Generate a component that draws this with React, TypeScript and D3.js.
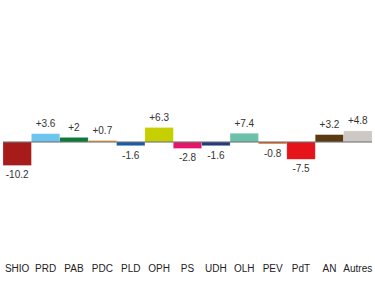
import React from "react";
import * as d3 from "d3";

const categories = ["SHIO", "PRD", "PAB", "PDC", "PLD", "OPH", "PS", "UDH", "OLH", "PEV", "PdT", "AN", "Autres"];
const values = [-10.2, 3.6, 2, 0.7, -1.6, 6.3, -2.8, -1.6, 3.8, -0.8, -7.5, 3.2, 4.8];
const valueLabels = ["-10.2", "+3.6", "+2", "+0.7", "-1.6", "+6.3", "-2.8", "-1.6", "+7.4", "-0.8", "-7.5", "+3.2", "+4.8"];
const colors = ["#a81b1b", "#6cc4ef", "#0b7a3b", "#eda24a", "#1a5ba3", "#c6cf00", "#e3166b", "#213b82", "#6cc1a9", "#d3621e", "#e5141a", "#5b3a12", "#cdc8c4"];

const W = 375;
const H = 284;

export default function App() {
  const x = d3.scaleBand<string>().domain(categories).range([3, 372]).padding(0);
  const y = d3.scaleLinear().domain([-10, 10]).range([142 + 23, 142 - 23]);
  const y0 = y(0);
  const font = "'Liberation Sans', Arial, Helvetica, sans-serif";
  return (
    <svg width={W} height={H} style={{ position: "absolute", left: 0, top: 0, background: "#fff" }}>
      {categories.map((c, i) => {
        const v = values[i];
        const top = Math.min(y(v), y0);
        const h = Math.abs(y(v) - y0);
        const cx = (x(c) as number) + x.bandwidth() / 2;
        return (
          <g key={c}>
            <rect x={x(c)} y={top} width={x.bandwidth()} height={h} fill={colors[i]} stroke="#fff" strokeOpacity={0.35} strokeWidth={0.6} />
            <text
              x={cx}
              y={v >= 0 ? y(v) - 6.5 : y(v) + 13}
              textAnchor="middle"
              fontSize={10}
              fontFamily={font}
              fill="#333"
            >
              {valueLabels[i]}
            </text>
            <text x={cx} y={272} textAnchor="middle" fontSize={10} fontFamily={font} fill="#222">
              {c}
            </text>
          </g>
        );
      })}
      <line x1={3} x2={372} y1={y0} y2={y0} stroke="#666" strokeWidth={1.2} />
    </svg>
  );
}
